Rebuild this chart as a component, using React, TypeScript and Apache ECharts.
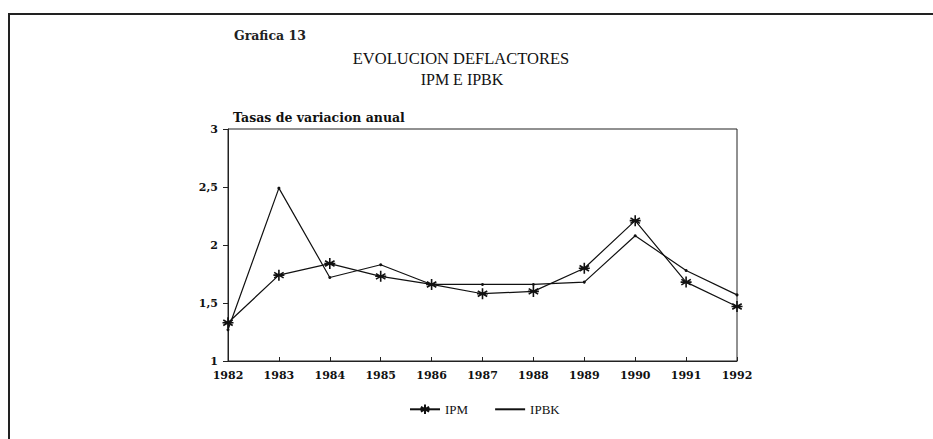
import React, { useEffect, useRef } from "react";
import * as echarts from "echarts";

const years = ["1982", "1983", "1984", "1985", "1986", "1987", "1988", "1989", "1990", "1991", "1992"];
const ipm = [1.33, 1.74, 1.84, 1.73, 1.66, 1.58, 1.6, 1.8, 2.21, 1.68, 1.47];
const ipbk = [1.27, 2.49, 1.72, 1.83, 1.66, 1.66, 1.66, 1.68, 2.08, 1.78, 1.57];
const yTicks = [1, 1.5, 2, 2.5, 3];

const STAR = "path://M5,0 L5,10 M0.7,2.5 L9.3,7.5 M0.7,7.5 L9.3,2.5 M0,5 L10,5";

export default function App() {
  const ref = useRef<HTMLDivElement>(null);
  useEffect(() => {
    if (!ref.current) return;
    const chart = echarts.init(ref.current, null, { renderer: "svg" });
    const tickFont = { fontFamily: "DejaVu Serif", fontWeight: "bold" as const, fontSize: 11, color: "#111" };
    chart.setOption({
      animation: false,
      backgroundColor: "#fff",
      title: [
        { text: "Grafica 13", left: 229, top: 24, textStyle: { fontFamily: "DejaVu Serif", fontWeight: "bold", fontSize: 12.5, color: "#222" } },
        { text: "EVOLUCION DEFLACTORES", left: 456, top: 45, textAlign: "center", textStyle: { fontFamily: "Liberation Serif", fontWeight: "normal", fontSize: 16.5, color: "#111" } },
        { text: "IPM E IPBK", left: 457, top: 66, textAlign: "center", textStyle: { fontFamily: "Liberation Serif", fontWeight: "normal", fontSize: 16, color: "#111" } },
        { text: "Tasas de variacion anual", left: 228, top: 106, textStyle: { fontFamily: "DejaVu Serif", fontWeight: "bold", fontSize: 12.5, color: "#111" } },
      ],
      graphic: [
        { type: "line", shape: { x1: 8, y1: 14, x2: 933, y2: 14 }, style: { stroke: "#222", lineWidth: 2 } },
        { type: "line", shape: { x1: 9, y1: 14, x2: 9, y2: 439 }, style: { stroke: "#222", lineWidth: 2 } },
      ],
      legend: {
        left: 404,
        top: 397,
        itemWidth: 30,
        itemHeight: 12,
        itemGap: 26,
        textStyle: { fontFamily: "Liberation Serif", fontSize: 13, color: "#111" },
        data: [
          { name: "IPM" },
          { name: "IPBK", itemStyle: { color: "transparent", borderWidth: 0, opacity: 0 } },
        ],
      },
      grid: { left: 228, right: 196, top: 129, bottom: 78, show: true, borderColor: "#222", borderWidth: 1 },
      xAxis: {
        type: "category",
        data: years,
        boundaryGap: false,
        axisLine: { lineStyle: { color: "#222", width: 1 } },
        axisTick: { inside: true, length: 4, lineStyle: { color: "#222" } },
        axisLabel: { ...tickFont, margin: 9 },
        splitLine: { show: false },
      },
      yAxis: {
        type: "value",
        min: yTicks[0],
        max: yTicks[yTicks.length - 1],
        interval: 0.5,
        axisLine: { show: true, lineStyle: { color: "#222", width: 1 } },
        axisTick: { show: true, length: 5, lineStyle: { color: "#222" } },
        axisLabel: { ...tickFont, margin: 10, formatter: (v: number) => String(v).replace(".", ",") },
        splitLine: { show: false },
      },
      series: [
        {
          name: "IPM",
          type: "line",
          data: ipm,
          symbol: STAR,
          symbolSize: 11,
          itemStyle: { color: "none", borderColor: "#111", borderWidth: 1.6 },
          lineStyle: { color: "#111", width: 1.2 },
        },
        {
          name: "IPBK",
          type: "line",
          data: ipbk,
          symbol: "circle",
          symbolSize: 3,
          itemStyle: { color: "#111" },
          lineStyle: { color: "#111", width: 1.2 },
        },
      ],
    });
    return () => chart.dispose();
  }, []);
  return <div ref={ref} style={{ position: "absolute", left: 0, top: 0, width: 933, height: 439 }} />;
}
